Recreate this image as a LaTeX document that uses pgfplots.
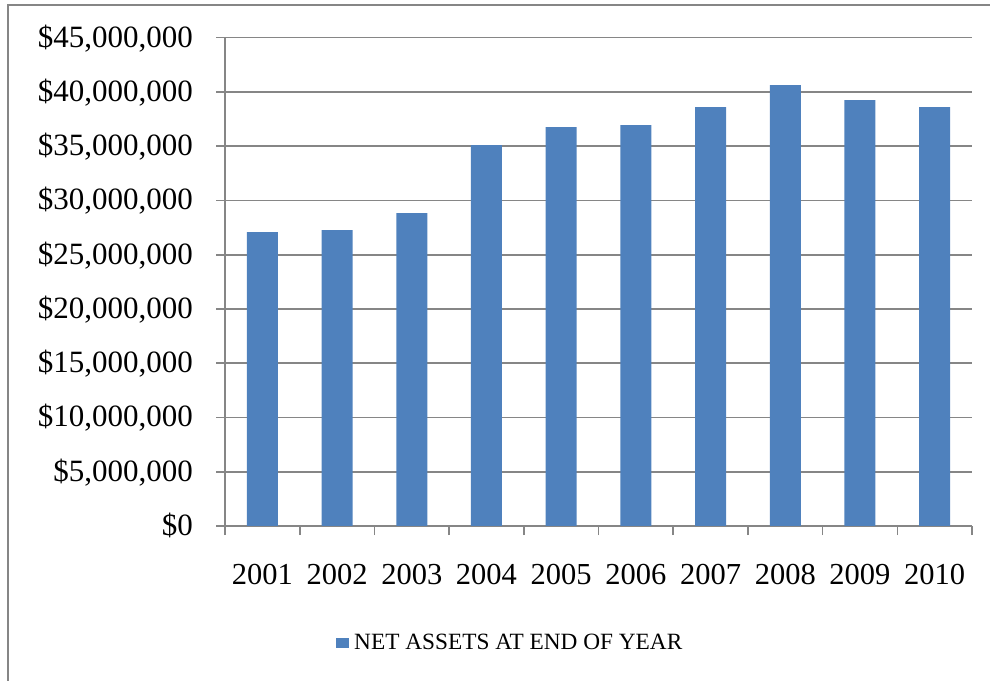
\documentclass[border=0pt]{standalone}
\usepackage{fontspec}
\setmainfont{Liberation Serif}
\usepackage{pgfplots}
\pgfplotsset{compat=1.18}
\definecolor{barblue}{RGB}{79,129,189}
\definecolor{axisgray}{RGB}{134,134,134}
\begin{document}
\begin{tikzpicture}
\useasboundingbox (0,0) rectangle (990bp,681bp);
% chart frame
\draw[axisgray, line width=1.8bp] (8bp,0bp) -- (8bp,676bp) -- (995bp,676bp);
\begin{axis}[
  at={(225bp,155bp)}, anchor=origin,
  scale only axis,
  width=747bp, height=488.3bp,
  xmin=0.5, xmax=10.5,
  ymin=0, ymax=45000000,
  scaled y ticks=false,
  axis lines*=left,
  axis line style={axisgray, line width=1.6bp},
  xtick={1,...,10},
  xticklabels={2001,2002,2003,2004,2005,2006,2007,2008,2009,2010},
  minor xtick={0.5,1.5,...,10.5},
  major x tick style={draw=none},
  minor x tick style={axisgray, line width=1.6bp},
  minor tick length=9bp,
  ytick={0,5000000,...,45000000},
  yticklabels={{\$0},{\$5,000,000},{\$10,000,000},{\$15,000,000},{\$20,000,000},{\$25,000,000},{\$30,000,000},{\$35,000,000},{\$40,000,000},{\$45,000,000}},
  major y tick style={axisgray, line width=1.6bp},
  major tick length=9bp,
  tick align=outside,
  ymajorgrids,
  major grid style={axisgray, line width=1.6bp},
  xticklabel style={anchor=base, inner sep=0pt, yshift=-49bp, font=\fontsize{30.5bp}{36bp}\selectfont},
  yticklabel style={anchor=base east, inner sep=0pt, xshift=-23bp, yshift=-9.5bp, font=\fontsize{31bp}{36bp}\selectfont},
  ybar, bar width=31bp,
  legend style={draw=none, fill=none, at={(0.1486,-0.2396)}, anchor=west,
    inner sep=0pt, font=\fontsize{23.3bp}{27bp}\selectfont,
    nodes={inner sep=0pt}},
  legend image code/.code={\fill[#1] (0bp,-5bp) rectangle (13bp,5bp);},
]
\addplot[fill=barblue, draw=none, bar shift=0pt] coordinates {
  (1,27090000) (2,27270000) (3,28840000) (4,35100000) (5,36760000)
  (6,36950000) (7,38610000) (8,40630000) (9,39250000) (10,38610000)};
\addlegendentry{\hspace{5bp}NET ASSETS AT END OF YEAR}
\end{axis}
\end{tikzpicture}
\end{document}
